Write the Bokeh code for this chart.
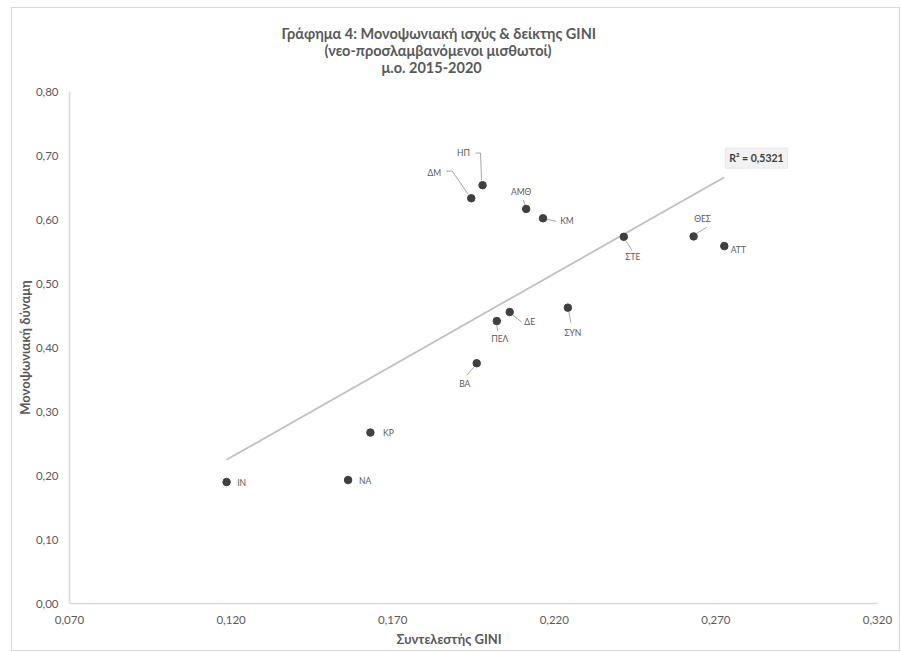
import numpy as np
from bokeh.plotting import figure
from bokeh.models import ColumnDataSource, Label, Title, FixedTicker
from bokeh.core.properties import value
from bokeh.embed import file_html
from bokeh.resources import INLINE

# ---- data ----
regions = ["ΙΝ", "ΝΑ", "ΚΡ", "ΒΑ", "ΠΕΛ", "ΔΕ", "ΣΥΝ", "ΣΤΕ", "ΘΕΣ", "ΑΤΤ", "ΔΜ", "ΗΠ", "ΑΜΘ", "ΚΜ"]
gini = [0.1186, 0.1562, 0.1631, 0.1960, 0.2022, 0.2062, 0.2242, 0.2415, 0.2631, 0.2726, 0.1943, 0.1978, 0.2113, 0.2165]
monopsony = [0.1898, 0.1929, 0.2671, 0.3754, 0.4413, 0.4554, 0.4623, 0.5730, 0.5736, 0.5584, 0.6332, 0.6536, 0.6165, 0.6019]
r2_text = "R² = 0,5321"

x_ticks = [0.07, 0.12, 0.17, 0.22, 0.27, 0.32]
x_tick_labels = ["0,070", "0,120", "0,170", "0,220", "0,270", "0,320"]
y_ticks = [0.0, 0.1, 0.2, 0.3, 0.4, 0.5, 0.6, 0.7, 0.8]
y_tick_labels = ["0,00", "0,10", "0,20", "0,30", "0,40", "0,50", "0,60", "0,70", "0,80"]

title_lines = ["Γράφημα 4: Μονοψωνιακή ισχύς & δείκτης GINI",
               "(νεο-προσλαμβανόμενοι μισθωτοί)",
               "μ.ο. 2015-2020"]
x_title = "Συντελεστής GINI"
y_title = "Μονοψωνιακή δύναμη"

# ---- label placement (screen pixels, y down) ----
label_dx = [15, 17, 18, -12, 3, 20, 5, 9, 9, 14, -37, -19, -5, 24]
label_dy = [1, 1, 0, 21, 18, 10, 25, 20, -17, 4, -25, -32, -17, 3]
leaders = {
    "ΗΠ": [(-1, -5), (-2, -32), (-7, -32)],
    "ΔΜ": [(-3, -4), (-19, -27), (-25, -27)],
    "ΑΜΘ": [(-1, -4), (-3, -9)],
    "ΚΜ": [(4, 1), (13, 3)],
    "ΣΤΕ": [(2, 4), (8, 13)],
    "ΘΕΣ": [(3, -3), (13, -9)],
    "ΣΥΝ": [(1, 4), (3, 15)],
    "ΔΕ": [(3, 3), (12, 10)],
    "ΠΕΛ": [(0, 4), (1, 10)],
    "ΒΑ": [(-3, 4), (-10, 12)],
}

FONT = "Lato"
GREY_TXT = "#595959"
AXIS_GREY = "#d9d9d9"

X0, X1 = 0.07, 0.32
Y0, Y1 = 0.0, 0.8
W, H = 889, 644              # outer size incl. 1px border
ML, MR, MT, MB = 57, 24, 83, 49
FW, FH = W - 2 - ML - MR, H - 2 - MT - MB

p = figure(width=W, height=H, x_range=(X0, X1), y_range=(Y0, Y1),
           output_backend="svg", toolbar_location=None,
           min_border_left=ML, min_border_right=MR, min_border_top=MT, min_border_bottom=MB)
p.styles = {"border": "1px solid #d9d9d9", "box-sizing": "border-box",
            "margin-left": "11px", "margin-top": "7px"}
p.xgrid.visible = False
p.ygrid.visible = False
p.outline_line_color = None
p.background_fill_color = "white"
p.border_fill_color = "white"

for ax, ticks, labels in ((p.xaxis[0], x_ticks, x_tick_labels), (p.yaxis[0], y_ticks, y_tick_labels)):
    ax.ticker = FixedTicker(ticks=ticks)
    ax.major_label_overrides = dict(zip(ticks, labels))
    ax.axis_line_color = AXIS_GREY
    ax.axis_line_width = 1.5
    ax.major_tick_line_color = None
    ax.minor_tick_line_color = None
    ax.major_tick_out = 0
    ax.major_tick_in = 0
    ax.minor_tick_out = 0
    ax.minor_tick_in = 0
    ax.major_label_text_font = FONT
    ax.major_label_text_font_size = "11.5px"
    ax.major_label_text_color = GREY_TXT
    ax.axis_label_text_font = FONT
    ax.axis_label_text_font_size = "13px"
    ax.axis_label_text_font_style = "bold"
    ax.axis_label_text_color = GREY_TXT
p.xaxis[0].major_label_standoff = 12
p.yaxis[0].major_label_standoff = 11
p.yaxis[0].axis_label = y_title
p.yaxis[0].axis_label_standoff = 0

# title lines: a thin spacer nearest to the frame, then the three lines stacked upward
p.add_layout(Title(text=" ", text_font_size="1px", standoff=14), "above")
title_offsets = [212, 255, 312]
for line, off in reversed(list(zip(title_lines, title_offsets))):
    p.add_layout(Title(text=line, align="left", offset=off, standoff=-2,
                       text_font=FONT, text_font_size="14.5px", text_font_style="bold",
                       text_color=GREY_TXT), "above")

# x axis title below the axis
p.add_layout(Title(text=x_title, align="left", offset=327, standoff=5,
                   text_font=FONT, text_font_size="13px", text_font_style="bold",
                   text_color=GREY_TXT), "below")

# trend line (least squares)
gx = np.array(gini)
gy = np.array(monopsony)
slope, intercept = np.polyfit(gx, gy, 1)
tx = np.array([gx.min(), gx.max()])
p.line(tx, slope * tx + intercept, line_color="#bfbfbf", line_width=1.75)

# leader lines
sx = (X1 - X0) / FW
sy = (Y1 - Y0) / FH
lx, ly = [], []
for name, xv, yv in zip(regions, gini, monopsony):
    if name in leaders:
        pts = leaders[name]
        lx.append([xv + dx * sx for dx, dy in pts])
        ly.append([yv - dy * sy for dx, dy in pts])
p.multi_line(lx, ly, line_color="#a6a6a6", line_width=1)

src = ColumnDataSource(dict(x=gini, y=monopsony, name=regions, dx=label_dx, dy=label_dy))
p.scatter("x", "y", source=src, size=7.5, fill_color="#404040", line_color="#404040")
p.text("x", "y", text="name", source=src, x_offset="dx", y_offset="dy",
       text_font=value(FONT), text_font_size="8.5px", text_color=GREY_TXT,
       text_align="center", text_baseline="middle")

r2 = Label(x=tx[1], y=slope * tx[1] + intercept, text=r2_text, x_offset=1, y_offset=19,
           text_font=FONT, text_font_size="10.5px", text_font_style="bold", text_color="#404040",
           background_fill_color="#f2f2f2", border_line_color="#e6e6e6",
           padding=4, text_baseline="middle")
p.add_layout(r2)

open("out.html", "w").write(file_html(p, INLINE))
